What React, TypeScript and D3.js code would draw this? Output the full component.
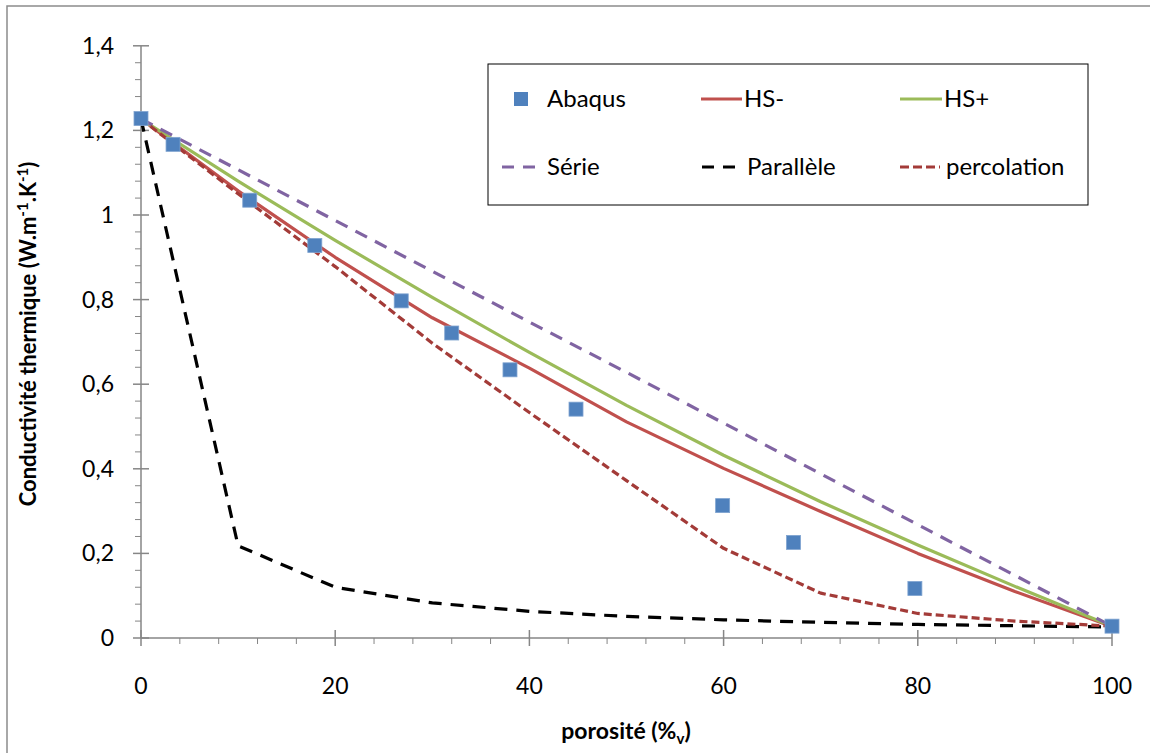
import React from "react";
import * as d3 from "d3";

const porosity = [0, 10, 20, 30, 40, 50, 60, 70, 80, 90, 100];
const hsMinus = [1.227, 1.057, 0.9, 0.757, 0.638, 0.511, 0.401, 0.299, 0.2, 0.11, 0.027];
const hsPlus = [1.227, 1.08, 0.94, 0.805, 0.675, 0.55, 0.432, 0.322, 0.22, 0.122, 0.028];
const serie = [1.227, 1.107, 0.987, 0.867, 0.747, 0.628, 0.508, 0.388, 0.268, 0.148, 0.028];
const parallele = [1.227, 0.218, 0.12, 0.083, 0.063, 0.051, 0.043, 0.037, 0.032, 0.029, 0.026];
const percolation = [1.227, 1.05, 0.878, 0.697, 0.533, 0.372, 0.212, 0.106, 0.058, 0.04, 0.028];

const abaqusX = [0, 3.3, 11.2, 17.9, 26.8, 32.0, 38.0, 44.8, 59.9, 67.2, 79.7, 100];
const abaqusY = [1.228, 1.167, 1.035, 0.928, 0.797, 0.721, 0.634, 0.541, 0.313, 0.226, 0.117, 0.028];

const xTicks = [0, 20, 40, 60, 80, 100];
const yTicks = [0, 0.2, 0.4, 0.6, 0.8, 1, 1.2, 1.4];

const FONT = "Lato, 'Open Sans', sans-serif";

export default function App() {
  const x = d3.scaleLinear().domain([0, 100]).range([141, 1112]);
  const y = d3.scaleLinear().domain([0, 1.4]).range([638, 45.8]);
  const line = d3
    .line<number>()
    .x((_, i) => x(porosity[i]))
    .y((d) => y(d));

  const series = [
    { data: hsMinus, color: "#C0504D", dash: undefined },
    { data: hsPlus, color: "#9BBB59", dash: undefined },
    { data: serie, color: "#8064A2", dash: "13,9" },
    { data: parallele, color: "#000000", dash: "13,9" },
    { data: percolation, color: "#A33B38", dash: "8,4" },
  ];

  const minorX = d3.range(0, 101, 4).filter((v) => v % 20 !== 0);
  const minorY = d3.range(0, 71, 2).map((v) => v / 50).filter((_, i) => i % 5 !== 0);
  const axisColor = "#868686";
  const fmt = (v: number) => String(Math.round(v * 10) / 10).replace(".", ",");

  return (
    <svg
      width={1150}
      height={753}
      style={{ position: "absolute", left: 0, top: 0, background: "#fff" }}
      fontFamily={FONT}
    >
      <rect x={0} y={0} width={1150} height={753} fill="#fff" />
      <rect x={7} y={6} width={1160} height={770} fill="none" stroke="#8c8c8c" strokeWidth={1.5} />

      {/* axes */}
      <line x1={x(0)} x2={x(100)} y1={y(0)} y2={y(0)} stroke={axisColor} strokeWidth={1.5} />
      <line x1={x(0)} x2={x(0)} y1={y(0)} y2={y(1.4)} stroke={axisColor} strokeWidth={1.5} />
      {xTicks.map((t) => (
        <line key={"xt" + t} x1={x(t)} x2={x(t)} y1={y(0) - 8} y2={y(0) + 8} stroke={axisColor} strokeWidth={1.5} />
      ))}
      {minorX.map((t) => (
        <line key={"xm" + t} x1={x(t)} x2={x(t)} y1={y(0)} y2={y(0) + 6} stroke={axisColor} strokeWidth={1} />
      ))}
      {yTicks.map((t) => (
        <line key={"yt" + t} x1={x(0) - 8} x2={x(0) + 8} y1={y(t)} y2={y(t)} stroke={axisColor} strokeWidth={1.5} />
      ))}
      {minorY.map((t) => (
        <line key={"ym" + t} x1={x(0) - 6} x2={x(0)} y1={y(t)} y2={y(t)} stroke={axisColor} strokeWidth={1} />
      ))}
      {xTicks.map((t) => (
        <text key={"xl" + t} x={x(t)} y={694} fontSize={23} textAnchor="middle" fill="#000">
          {t}
        </text>
      ))}
      {yTicks.map((t) => (
        <text key={"yl" + t} x={114} y={y(t) + 8} fontSize={23} textAnchor="end" fill="#000">
          {fmt(t)}
        </text>
      ))}

      {/* axis titles */}
      <text x={626} y={739} fontSize={23} fontWeight="bold" textAnchor="middle" fill="#000">
        porosité (%<tspan fontSize={15} dy={5}>v</tspan>
        <tspan dy={-5}>)</tspan>
      </text>
      <text
        transform={`translate(36,334) rotate(-90)`}
        fontSize={22}
        fontWeight="bold"
        textAnchor="middle"
        fill="#000"
      >
        Conductivité thermique (W.m<tspan fontSize={15} dy={-8}>-1</tspan>
        <tspan dy={8}>.K</tspan>
        <tspan fontSize={15} dy={-8}>-1</tspan>
        <tspan dy={8}>)</tspan>
      </text>

      {/* series */}
      {series.map((s, i) => (
        <path
          key={"s" + i}
          d={line(s.data) || ""}
          fill="none"
          stroke={s.color}
          strokeWidth={3.2}
          strokeDasharray={s.dash}
          strokeLinejoin="round"
        />
      ))}
      {abaqusX.map((v, i) => (
        <rect
          key={"m" + i}
          x={x(v) - 7}
          y={y(abaqusY[i]) - 7}
          width={14}
          height={14}
          fill="#4F81BD"
          stroke="#7FA3D0"
          strokeWidth={0.8}
        />
      ))}

      {/* legend */}
      <rect x={488} y={64} width={600} height={141} fill="#fff" stroke="#000" strokeWidth={1} />
      <rect x={514} y={92} width={14} height={14} fill="#4F81BD" />
      <text x={547} y={107} fontSize={24} fill="#000">Abaqus</text>
      <line x1={701} x2={742} y1={99} y2={99} stroke="#C0504D" strokeWidth={3} />
      <text x={744} y={107} fontSize={24} fill="#000">HS-</text>
      <line x1={900} x2={942} y1={99} y2={99} stroke="#9BBB59" strokeWidth={3} />
      <text x={944} y={107} fontSize={24} fill="#000">HS+</text>
      <line x1={500} x2={540} y1={167} y2={167} stroke="#8064A2" strokeWidth={3} strokeDasharray="12,9" strokeDashoffset={-2} />
      <text x={547} y={175} fontSize={24} fill="#000">Série</text>
      <line x1={700} x2={740} y1={167} y2={167} stroke="#000" strokeWidth={3} strokeDasharray="12,9" strokeDashoffset={-2} />
      <text x={747} y={175} fontSize={24} fill="#000">Parallèle</text>
      <line x1={900} x2={940} y1={167} y2={167} stroke="#A33B38" strokeWidth={3} strokeDasharray="9,4" />
      <text x={946} y={175} fontSize={24} fill="#000">percolation</text>
    </svg>
  );
}
